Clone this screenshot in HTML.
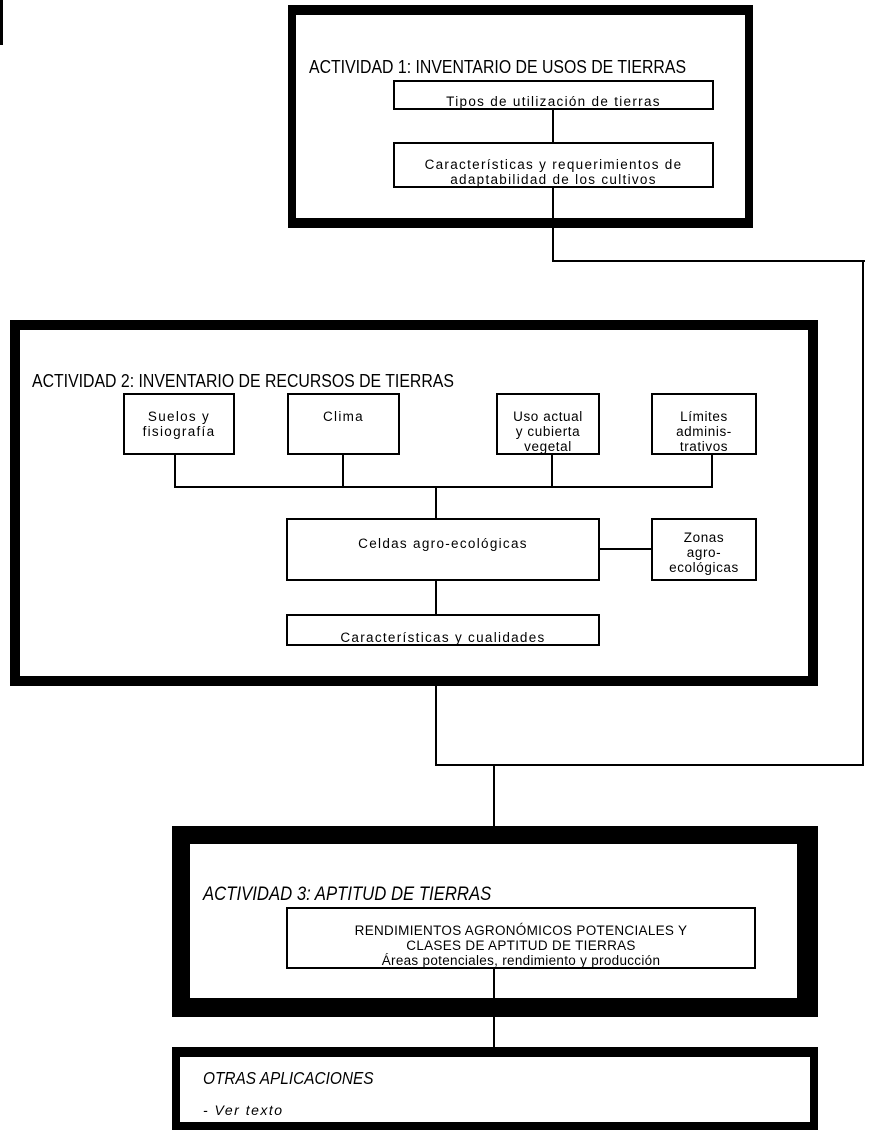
<!DOCTYPE html>
<html><head><meta charset="utf-8"><style>
body{margin:0;width:873px;height:1133px;background:#fff;position:relative;overflow:hidden;font-family:"Liberation Sans",sans-serif;color:#000}
.b{position:absolute;box-sizing:border-box;background:#fff}
.t{position:absolute;white-space:nowrap;font-size:18px;transform-origin:0 0;transform:scaleX(0.88)}
.n{position:absolute;box-sizing:border-box;border:2px solid #000;background:#fff;font-size:13.5px;text-align:center;line-height:15px;letter-spacing:1.3px}
.h{position:absolute;background:#000;height:2px}
.v{position:absolute;background:#000;width:2px}
</style></head><body>
<div class="v" style="left:0;top:0;height:45px;width:3px"></div>
<div class="v" style="left:552px;top:220px;height:42px"></div>
<div class="h" style="left:552px;top:260px;width:313px"></div>
<div class="v" style="left:862px;top:260px;height:506px"></div>
<div class="h" style="left:435px;top:764px;width:429px"></div>
<div class="v" style="left:435px;top:640px;height:126px"></div>
<div class="v" style="left:493px;top:764px;height:64px"></div>
<div class="v" style="left:493px;top:1010px;height:40px"></div>

<div class="b" style="left:288px;top:5px;width:465px;height:223px;border:8px solid #000;border-top-width:10px;border-bottom-width:10px"></div>
<div class="t" style="left:309px;top:57px">ACTIVIDAD 1: INVENTARIO DE USOS DE TIERRAS</div>
<div class="v" style="left:552px;top:108px;height:36px"></div>
<div class="v" style="left:552px;top:186px;height:34px"></div>
<div class="n" style="left:393px;top:80px;width:321px;height:30px;padding-top:12px">Tipos de utilización de tierras</div>
<div class="n" style="left:393px;top:142px;width:321px;height:46px;padding-top:13px">Características y requerimientos de<br>adaptabilidad de los cultivos</div>

<div class="b" style="left:10px;top:320px;width:808px;height:366px;border:10px solid #000"></div>
<div class="t" style="left:32px;top:371px">ACTIVIDAD 2: INVENTARIO DE RECURSOS DE TIERRAS</div>
<div class="h" style="left:174px;top:486px;width:539px"></div>
<div class="v" style="left:174px;top:454px;height:33px"></div>
<div class="v" style="left:342px;top:454px;height:33px"></div>
<div class="v" style="left:551px;top:454px;height:33px"></div>
<div class="v" style="left:711px;top:454px;height:33px"></div>
<div class="v" style="left:435px;top:486px;height:130px"></div>
<div class="h" style="left:598px;top:548px;width:55px"></div>
<div class="n" style="left:123px;top:393px;width:112px;height:62px;padding-top:14px">Suelos y<br>fisiografía</div>
<div class="n" style="left:287px;top:393px;width:113px;height:62px;padding-top:14px">Clima</div>
<div class="n" style="left:496px;top:393px;width:104px;height:62px;padding-top:14px;letter-spacing:0.6px">Uso actual<br>y cubierta<br>vegetal</div>
<div class="n" style="left:651px;top:393px;width:106px;height:62px;padding-top:14px;letter-spacing:0.6px">Límites<br>adminis-<br>trativos</div>
<div class="n" style="left:286px;top:518px;width:314px;height:63px;padding-top:16px">Celdas agro-ecológicas</div>
<div class="n" style="left:651px;top:518px;width:106px;height:63px;padding-top:10px;letter-spacing:0.6px">Zonas<br>agro-<br>ecológicas</div>
<div class="n" style="left:286px;top:614px;width:314px;height:32px;padding-top:14px">Características y cualidades</div>

<div class="b" style="left:172px;top:826px;width:646px;height:191px;border:18px solid #000;border-right-width:21px;border-bottom-width:19px"></div>
<div class="t" style="left:203px;top:884px;font-style:italic;font-size:19px">ACTIVIDAD 3: APTITUD DE TIERRAS</div>
<div class="v" style="left:493px;top:966px;height:34px"></div>
<div class="n" style="left:286px;top:907px;width:470px;height:62px;padding-top:14px;letter-spacing:0.3px">RENDIMIENTOS AGRONÓMICOS POTENCIALES Y<br>CLASES DE APTITUD DE TIERRAS<br>Áreas potenciales, rendimiento y producción</div>

<div class="b" style="left:172px;top:1047px;width:646px;height:83px;border:8px solid #000;border-top-width:10px"></div>
<div class="t" style="left:203px;top:1068px;font-style:italic;font-size:17.5px">OTRAS APLICACIONES</div>
<div class="t" style="left:203px;top:1102px;font-style:italic;font-size:14px;letter-spacing:1.5px;transform:none">- Ver texto</div>
</body></html>
